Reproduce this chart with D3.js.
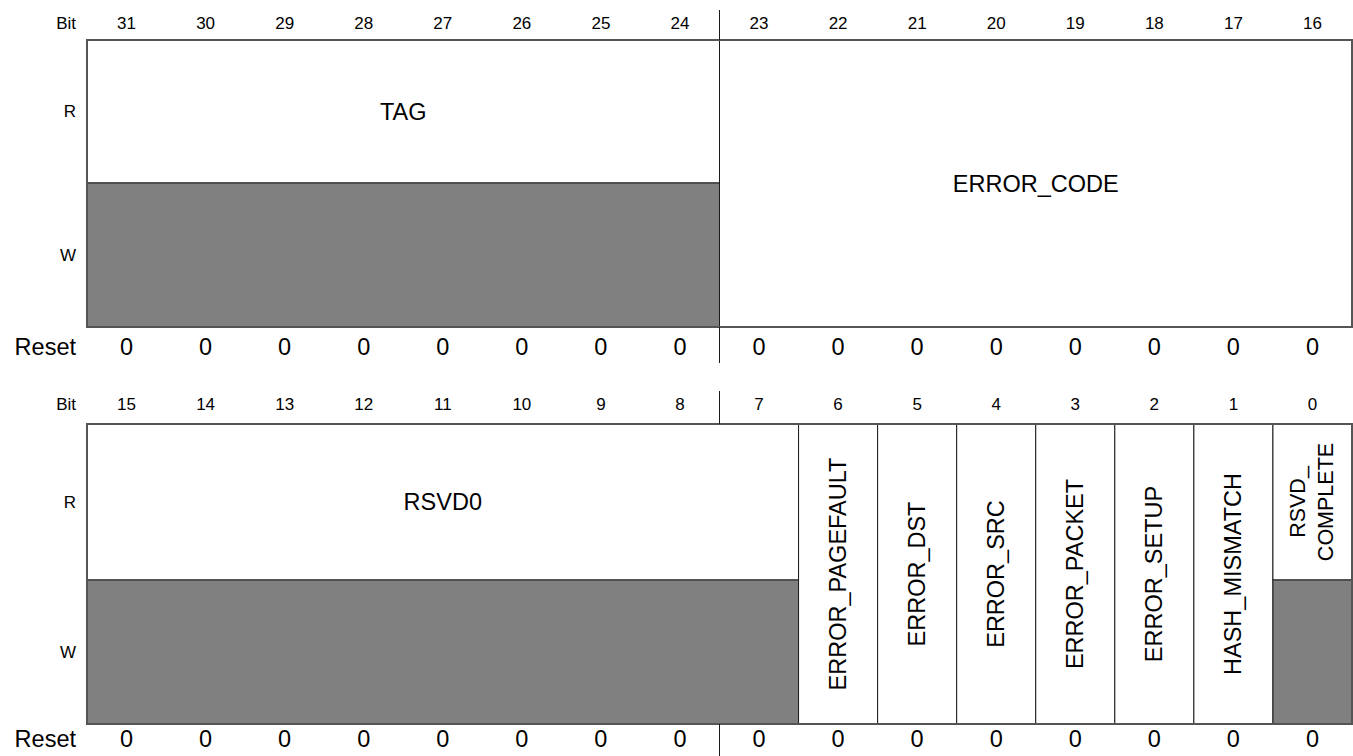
<!DOCTYPE html>
<html>
<head>
<meta charset="utf-8">
<script src="https://cdnjs.cloudflare.com/ajax/libs/d3/7.8.5/d3.min.js"></script>
<style>
  html, body { margin: 0; padding: 0; background: #fff; }
  svg { display: block; font-family: "Liberation Sans", Arial, Helvetica, sans-serif; }
</style>
</head>
<body>
<svg id="chart" width="1353" height="756"></svg>
<script>
// ---------- data ----------
const bitsHigh = [31, 30, 29, 28, 27, 26, 25, 24, 23, 22, 21, 20, 19, 18, 17, 16];
const bitsLow  = [15, 14, 13, 12, 11, 10, 9, 8, 7, 6, 5, 4, 3, 2, 1, 0];

const resetHigh = [0, 0, 0, 0, 0, 0, 0, 0, 0, 0, 0, 0, 0, 0, 0, 0];
const resetLow  = [0, 0, 0, 0, 0, 0, 0, 0, 0, 0, 0, 0, 0, 0, 0, 0];

const fieldNames = ["TAG", "ERROR_CODE", "RSVD0", "ERROR_PAGEFAULT", "ERROR_DST", "ERROR_SRC",
                    "ERROR_PACKET", "ERROR_SETUP", "HASH_MISMATCH", "RSVD_COMPLETE"];
const fieldLines = [["TAG"], ["ERROR_CODE"], ["RSVD0"], ["ERROR_PAGEFAULT"], ["ERROR_DST"], ["ERROR_SRC"],
                    ["ERROR_PACKET"], ["ERROR_SETUP"], ["HASH_MISMATCH"], ["RSVD_", "COMPLETE"]];
const fieldMsb = [31, 23, 15, 6, 5, 4, 3, 2, 1, 0];
const fieldLsb = [24, 16, 7, 6, 5, 4, 3, 2, 1, 0];
// true = read-only field (write row shaded)
const fieldReadOnly = [true, false, true, false, false, false, false, false, false, true];

const rowLabels = ["R", "W"];
const bitLabel = "Bit";
const resetLabel = "Reset";

// ---------- layout ----------
const svg = d3.select("#chart");
const gridLeft = 87, gridRight = 1352;
const registers = [
  { bits: bitsHigh, reset: resetHigh, headerY: 23, top: 40, split: 183, bottom: 327, resetY: 347 },
  { bits: bitsLow,  reset: resetLow,  headerY: 404, top: 424, split: 580, bottom: 724, resetY: 739 }
];
const fields = fieldNames.map((n, i) => ({
  name: n, lines: fieldLines[i], msb: fieldMsb[i], lsb: fieldLsb[i], ro: fieldReadOnly[i]
}));

const smallFont = 17, bigFont = 23.5, fieldFont = 23.5, multiLineFont = 21.5;
const lineColor = "#1a1a1a", borderColor = "#555", shade = "#808080";

registers.forEach(reg => {
  const x = d3.scaleBand().domain(reg.bits).range([gridLeft, gridRight]).paddingInner(0).paddingOuter(0);
  const bw = x.bandwidth();
  const g = svg.append("g");

  // header "Bit" and bit numbers
  g.append("text").attr("x", 76).attr("y", reg.headerY).attr("text-anchor", "end")
    .attr("dominant-baseline", "central").attr("font-size", smallFont).text(bitLabel);
  g.selectAll("text.bitnum").data(reg.bits).join("text")
    .attr("class", "bitnum")
    .attr("x", d => x(d) + bw / 2).attr("y", reg.headerY)
    .attr("text-anchor", "middle").attr("dominant-baseline", "central")
    .attr("font-size", smallFont).text(d => d);

  // Reset row
  g.append("text").attr("x", 76).attr("y", reg.resetY).attr("text-anchor", "end")
    .attr("dominant-baseline", "central").attr("font-size", bigFont).text(resetLabel);
  g.selectAll("text.rst").data(reg.bits).join("text")
    .attr("class", "rst")
    .attr("x", d => x(d) + bw / 2).attr("y", reg.resetY)
    .attr("text-anchor", "middle").attr("dominant-baseline", "central")
    .attr("font-size", bigFont).text((d, i) => reg.reset[i]);

  // R / W labels
  const rowCenters = [(reg.top + reg.split) / 2, (reg.split + reg.bottom) / 2];
  g.selectAll("text.rw").data(rowLabels).join("text")
    .attr("class", "rw")
    .attr("x", 76).attr("y", (d, i) => rowCenters[i])
    .attr("text-anchor", "end").attr("dominant-baseline", "central")
    .attr("font-size", smallFont).text(d => d);

  // fields
  const regFields = fields.filter(f => reg.bits.includes(f.msb));
  regFields.forEach(f => {
    const x0 = x(f.msb), x1 = x(f.lsb) + bw;
    if (f.ro) {
      g.append("rect").attr("x", x0).attr("y", reg.top).attr("width", x1 - x0).attr("height", reg.split - reg.top)
        .attr("fill", "#fff").attr("stroke", lineColor).attr("stroke-width", 1);
      g.append("rect").attr("x", x0).attr("y", reg.split).attr("width", x1 - x0).attr("height", reg.bottom - reg.split)
        .attr("fill", shade).attr("stroke", lineColor).attr("stroke-width", 1);
    } else {
      g.append("rect").attr("x", x0).attr("y", reg.top).attr("width", x1 - x0).attr("height", reg.bottom - reg.top)
        .attr("fill", "#fff").attr("stroke", lineColor).attr("stroke-width", 1);
    }
    const cx = (x0 + x1) / 2;
    const cy = f.ro ? (reg.top + reg.split) / 2 : (reg.top + reg.bottom) / 2;
    const vertical = f.msb === f.lsb;
    const n = f.lines.length, lh = 28;
    const t = g.append("text")
      .attr("font-size", n > 1 ? multiLineFont : fieldFont).attr("text-anchor", "middle")
      .attr("transform", vertical ? `translate(${cx},${cy}) rotate(-90)` : `translate(${cx},${cy})`);
    f.lines.forEach((ln, i) => {
      t.append("tspan").attr("x", 0).attr("y", (i - (n - 1) / 2) * lh)
        .attr("dominant-baseline", "central").text(ln);
    });
  });

  // outer border
  g.append("rect").attr("x", gridLeft).attr("y", reg.top)
    .attr("width", gridRight - gridLeft).attr("height", reg.bottom - reg.top)
    .attr("fill", "none").attr("stroke", borderColor).attr("stroke-width", 2);

  // byte boundary ticks
  const bx = x(reg.bits[8]);
  g.append("line").attr("x1", bx).attr("x2", bx).attr("y1", reg.headerY - 13).attr("y2", reg.top)
    .attr("stroke", lineColor).attr("stroke-width", 1);
  g.append("line").attr("x1", bx).attr("x2", bx).attr("y1", reg.bottom).attr("y2", reg.bottom + 36)
    .attr("stroke", lineColor).attr("stroke-width", 1);
});
</script>
</body>
</html>
